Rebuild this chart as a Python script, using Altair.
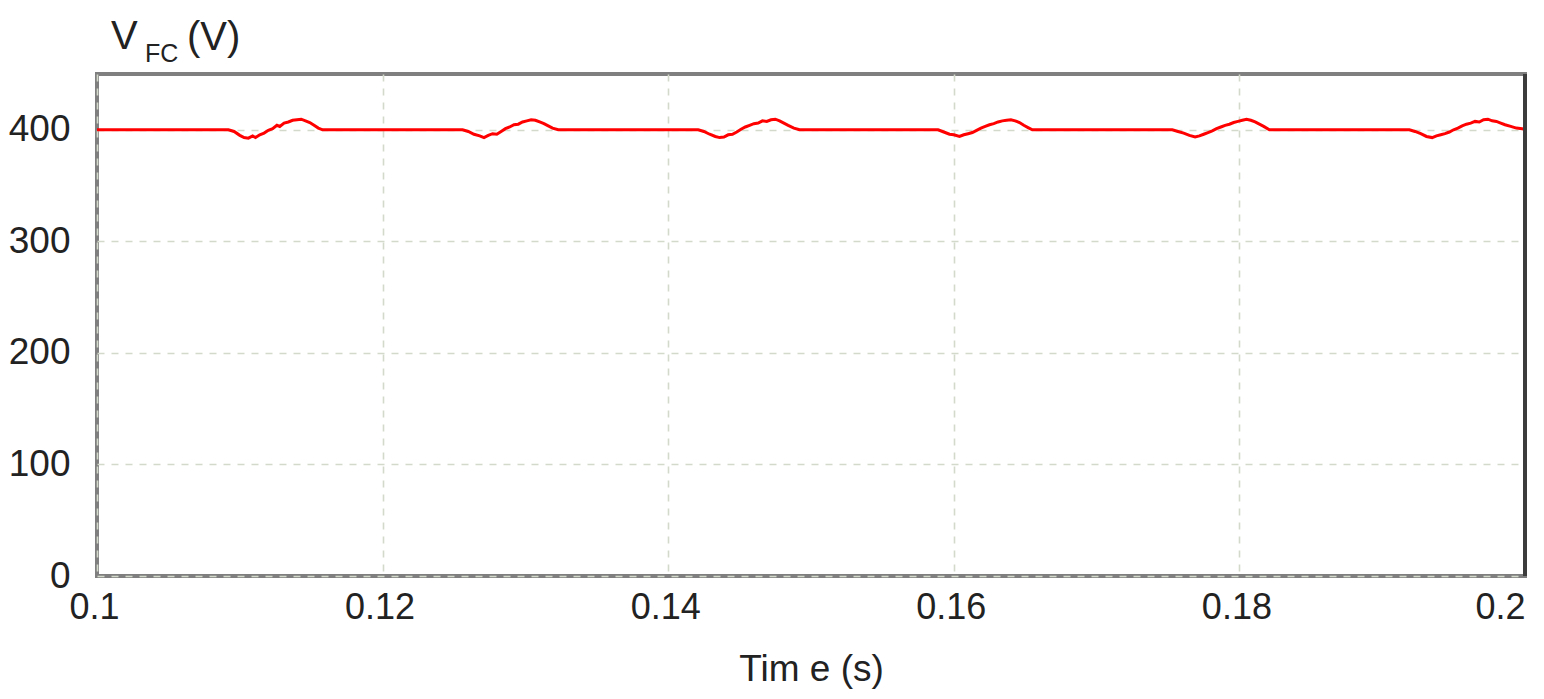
import altair as alt
import pandas as pd

# Time (s) and fuel-cell voltage (V)
t_s = [
    0.1000,
    0.1092, 0.1096, 0.1100, 0.1103, 0.1106, 0.1109, 0.1111, 0.1114, 0.1117, 0.1120, 0.1123,
    0.1126, 0.1128, 0.1131, 0.1134, 0.1137, 0.1140, 0.1143, 0.1146, 0.1149, 0.1152, 0.1155, 0.1158,
    0.1256, 0.1260, 0.1264, 0.1268, 0.1271, 0.1274, 0.1277, 0.1280, 0.1283, 0.1286, 0.1289,
    0.1292, 0.1295, 0.1298, 0.1301, 0.1304, 0.1307, 0.1310, 0.1313, 0.1316, 0.1319, 0.1323,
    0.1421, 0.1425, 0.1429, 0.1433, 0.1436, 0.1439, 0.1442, 0.1445, 0.1448, 0.1451, 0.1454,
    0.1457, 0.1460, 0.1463, 0.1466, 0.1469, 0.1472, 0.1475, 0.1478, 0.1481, 0.1484, 0.1488, 0.1492,
    0.1589, 0.1593, 0.1597, 0.1600, 0.1604, 0.1607, 0.1610, 0.1613, 0.1616, 0.1619, 0.1622,
    0.1625, 0.1628, 0.1631, 0.1634, 0.1637, 0.1640, 0.1643, 0.1646, 0.1649, 0.1652, 0.1655,
    0.1753, 0.1757, 0.1761, 0.1765, 0.1769, 0.1772, 0.1775, 0.1778, 0.1781, 0.1784, 0.1787,
    0.1790, 0.1793, 0.1796, 0.1799, 0.1802, 0.1805, 0.1808, 0.1811, 0.1814, 0.1817, 0.1821,
    0.1919, 0.1923, 0.1927, 0.1931, 0.1935, 0.1938, 0.1941, 0.1944, 0.1947, 0.1950, 0.1953,
    0.1956, 0.1959, 0.1962, 0.1965, 0.1968, 0.1971, 0.1974, 0.1977, 0.1980, 0.1983, 0.1986,
    0.1990, 0.1994, 0.1998, 0.2000,
]
v_fc = [
    400,
    400, 398.5, 395, 393, 392.5, 394.5, 393, 395.5, 397, 399.5, 401,
    404, 403, 406, 407, 408.5, 409, 409.5, 408, 406.5, 404, 401.5, 400,
    400, 398.5, 396, 394.5, 393, 395, 396.5, 396, 398.5, 401, 402.5,
    404.5, 405, 407, 408, 409, 408.5, 407, 405.5, 403.5, 401.5, 400,
    400, 398.5, 396, 394, 393, 393.5, 395.5, 396, 398, 400.5, 402.5,
    404, 405.5, 406, 408, 407.5, 409, 409.5, 408, 406, 404, 401.5, 400,
    400, 398, 396, 395.5, 394, 395.5, 396.5, 397.5, 399.5, 401.5, 403,
    404.5, 405.5, 407, 408, 408.5, 409, 408, 406.5, 404, 402, 400,
    400, 398.5, 397, 395, 393.5, 394.5, 396, 397.5, 399, 401, 402.5,
    404, 405, 406.5, 407.5, 408.5, 409.5, 408.5, 407, 405, 403, 400,
    400, 398.5, 396.5, 394, 393, 394.5, 395.5, 396.5, 398, 400, 401.5,
    403.5, 405, 406, 407.5, 407, 409, 409.5, 408, 407.5, 406, 404.5,
    403, 401.5, 401, 400.5,
]

x_ticks = [0.1, 0.12, 0.14, 0.16, 0.18, 0.2]
y_ticks = [0, 100, 200, 300, 400]

df = pd.DataFrame({"t": t_s, "v": v_fc})

W, H = 1428, 502
FONT = "Liberation Sans"
TXT = "#222222"
GRID = "#d3dacb"

line = alt.Chart(df).mark_line(color="#ff0000", strokeWidth=3, clip=True).encode(
    x=alt.X(
        "t:Q",
        scale=alt.Scale(domain=[0.1, 0.2], nice=False, zero=False),
        axis=alt.Axis(
            values=x_ticks,
            format="~g",
            title="Tim e (s)",
            titleFont=FONT,
            titleFontSize=37,
            titleFontWeight="normal",
            titleColor=TXT,
            titlePadding=26,
            labelFont=FONT,
            labelFontSize=36,
            labelColor=TXT,
            labelPadding=14,
            labelFlush=False,
            labelAlign={"condition": {"test": "datum.value >= 0.2", "value": "right"}, "value": "center"},
            labelOffset={"condition": {"test": "datum.value >= 0.2", "value": 0}, "value": -3},
            domain=False,
            ticks=False,
            grid=True,
            gridColor=GRID,
            gridDash=[7, 7],
            gridWidth=1.6,
        ),
    ),
    y=alt.Y(
        "v:Q",
        scale=alt.Scale(domain=[0, 450], nice=False),
        axis=alt.Axis(
            values=y_ticks,
            title=None,
            labelFont=FONT,
            labelFontSize=37,
            labelColor=TXT,
            labelPadding=27,
            domain=False,
            ticks=False,
            grid=True,
            gridColor=GRID,
            gridDash=[7, 7],
            gridWidth=1.6,
        ),
    ),
)

v_big = alt.Chart(pd.DataFrame({"s": ["V"]})).mark_text(
    font=FONT, fontSize=40, color=TXT, align="left", baseline="alphabetic"
).encode(x=alt.value(14), y=alt.value(-25), text="s:N")
v_sub = alt.Chart(pd.DataFrame({"s": ["FC"]})).mark_text(
    font=FONT, fontSize=25, color=TXT, align="left", baseline="alphabetic"
).encode(x=alt.value(48), y=alt.value(-12), text="s:N")
v_unit = alt.Chart(pd.DataFrame({"s": ["(V)"]})).mark_text(
    font=FONT, fontSize=40, color=TXT, align="left", baseline="alphabetic"
).encode(x=alt.value(90), y=alt.value(-24), text="s:N")

right_edge = alt.Chart(pd.DataFrame({"s": ["r"]})).mark_rule(color="#3c3c3c", strokeWidth=4).encode(
    x=alt.value(W), y=alt.value(0), y2=alt.value(H)
)

chart = (
    alt.layer(line, right_edge, v_big, v_sub, v_unit)
    .properties(
        width=W,
        height=H,
        autosize=alt.AutoSizeParams(type="none"),
        padding={"left": 89, "top": 66, "right": 10, "bottom": 114},
        background="white",
    )
    .configure_view(stroke="#7f7f7f", strokeWidth=4)
)

chart.save("out.html", embed_options={"renderer": "svg", "actions": False})
